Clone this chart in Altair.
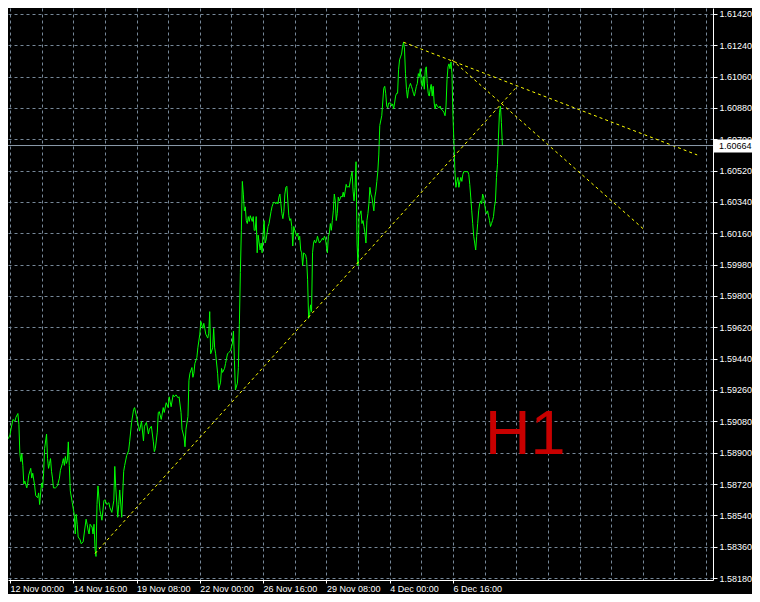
import json
import altair as alt
import pandas as pd

# ---- hourly closes (bar index, price) ----
bars = [
    0, 2, 3, 5, 7, 8, 10, 11, 12, 13, 14, 15, 16, 17, 19, 20, 21, 23, 24, 25,
    27, 28, 30, 31, 32, 33, 34, 35, 36, 37, 39, 40, 41, 42, 43, 44, 45, 46, 48, 50,
    52, 53, 55, 56, 57, 58, 59, 60, 61, 62, 63, 65, 67, 68, 69, 70, 71, 73, 74, 76,
    77, 79, 80, 81, 82, 83, 85, 86, 87, 88, 89, 90, 91, 93, 95, 97, 98, 100, 102, 103,
    105, 107, 108, 109, 111, 112, 113, 115, 117, 118, 120, 122, 123, 125, 127, 128, 130, 132, 133, 135,
    137, 138, 140, 142, 143, 145, 147, 148, 149, 151, 152, 153, 155, 157, 158, 160, 162, 163, 165, 167,
    168, 170, 172, 173, 175, 176, 178, 179, 180, 182, 183, 184, 186, 187, 188, 189, 191, 192, 194, 195,
    197, 198, 199, 200, 202, 203, 204, 205, 207, 208, 209, 210, 212, 213, 215, 216, 217, 219, 220, 222,
    223, 225, 227, 228, 229, 230, 232, 233, 234, 235, 236, 237, 238, 239, 240, 241, 242, 243, 244, 245,
    247, 248, 249, 250, 251, 252, 253, 255, 256, 257, 258, 259, 260, 261, 262, 263, 264, 266, 267, 268,
    269, 271, 272, 273, 274, 275, 276, 277, 278, 279, 280, 281, 282, 283, 284, 285, 286, 287, 288, 289,
    290, 291, 292, 293, 294, 295, 296, 297, 298, 299, 301, 302, 303, 304, 305, 306, 307, 308, 309, 310,
    311, 312, 313, 314, 315, 317, 318, 319, 320, 321, 322, 323, 324, 325, 326, 327, 328, 329, 330, 331,
    332, 333, 334, 335, 337, 338, 339, 340, 341, 342, 343, 344, 345, 347, 348, 349, 350, 351, 352, 353,
    354, 355, 357, 358, 359, 360, 361, 362, 363, 364, 365, 366, 367, 368, 369, 370, 371, 372, 373, 374,
    375, 376, 378, 380, 381, 382, 383, 384, 385, 387, 388, 389, 390, 391, 392, 393, 394, 395, 396, 397,
    398, 399, 400, 401, 402, 403, 404, 405, 406, 407, 408, 409, 410, 411, 412, 413, 414, 415, 416, 417,
    418, 419, 420, 421, 422, 423, 424, 425, 426, 427, 428, 429, 430, 431, 432, 433, 434, 436, 437, 438,
    440, 441, 442, 443, 444, 445, 446, 447, 448, 449, 450, 451, 452, 453, 454, 455, 456, 457, 458, 459,
    460, 461, 463, 465, 466, 467, 468, 469, 470, 471, 472, 473, 474, 475, 476, 477, 478, 479, 480, 481,
    482, 483, 484, 485, 486, 487, 488, 489, 490, 491, 492, 493, 494, 495, 496, 497, 498, 499, 500, 501,
]
closes = [
    1.58979, 1.59001, 1.59035, 1.59091, 1.59080, 1.59103, 1.59125, 1.59063, 1.58894, 1.58849, 1.58894, 1.58827, 1.58720, 1.58737, 1.58698, 1.58726, 1.58771, 1.58810, 1.58754, 1.58782,
    1.58709, 1.58653, 1.58641, 1.58669, 1.58602, 1.58669, 1.58726, 1.58698, 1.58782, 1.58923, 1.59007, 1.58866, 1.58810, 1.58838, 1.58866, 1.58793, 1.58754, 1.58698, 1.58698, 1.58709,
    1.58754, 1.58799, 1.58838, 1.58866, 1.58827, 1.58878, 1.58838, 1.58855, 1.58962, 1.58827, 1.58681, 1.58613, 1.58546, 1.58433, 1.58546, 1.58489, 1.58416, 1.58399, 1.58377, 1.58388,
    1.58433, 1.58518, 1.58489, 1.58456, 1.58433, 1.58489, 1.58473, 1.58433, 1.58489, 1.58349, 1.58304, 1.58602, 1.58709, 1.58568, 1.58512, 1.58624, 1.58630, 1.58602, 1.58613, 1.58585,
    1.58557, 1.58624, 1.58821, 1.58698, 1.58529, 1.58602, 1.58686, 1.58529, 1.58793, 1.58827, 1.58883, 1.58911, 1.58962, 1.59074, 1.59148, 1.59159, 1.59108, 1.59052, 1.59024, 1.59080,
    1.58968, 1.59052, 1.59074, 1.59007, 1.59035, 1.59052, 1.58962, 1.58906, 1.58923, 1.59018, 1.59131, 1.59136, 1.59091, 1.59159, 1.59131, 1.59187, 1.59159, 1.59221, 1.59164, 1.59232,
    1.59221, 1.59232, 1.59215, 1.59221, 1.59131, 1.59035, 1.58990, 1.58934, 1.59035, 1.59108, 1.59316, 1.59356, 1.59389, 1.59333, 1.59356, 1.59412, 1.59446, 1.59502, 1.59581, 1.59654,
    1.59614, 1.59643, 1.59614, 1.59581, 1.59558, 1.59586, 1.59710, 1.59468, 1.59502, 1.59614, 1.59502, 1.59468, 1.59356, 1.59260, 1.59305, 1.59384, 1.59361, 1.59384, 1.59412, 1.59468,
    1.59474, 1.59485, 1.59530, 1.59598, 1.59429, 1.59260, 1.59299, 1.59389, 1.59637, 1.59935, 1.60177, 1.60458, 1.60385, 1.60289, 1.60312, 1.60233, 1.60216, 1.60256, 1.60228, 1.60261,
    1.60228, 1.60256, 1.60177, 1.60177, 1.60256, 1.60048, 1.60149, 1.60064, 1.60104, 1.60048, 1.60160, 1.60233, 1.60104, 1.60121, 1.60160, 1.60199, 1.60216, 1.60284, 1.60312, 1.60329,
    1.60340, 1.60329, 1.60340, 1.60329, 1.60368, 1.60385, 1.60329, 1.60273, 1.60244, 1.60284, 1.60385, 1.60424, 1.60430, 1.60346, 1.60261, 1.60233, 1.60244, 1.60199, 1.60087, 1.60199,
    1.60177, 1.60160, 1.60143, 1.60160, 1.60121, 1.60143, 1.60064, 1.60048, 1.59974, 1.60048, 1.60036, 1.60008, 1.59896, 1.59671, 1.59693, 1.59749, 1.59710, 1.60048, 1.60104, 1.60121,
    1.60104, 1.60115, 1.60143, 1.60121, 1.60104, 1.60121, 1.60132, 1.60121, 1.60143, 1.60132, 1.60087, 1.60048, 1.60143, 1.60160, 1.60216, 1.60177, 1.60233, 1.60289, 1.60385, 1.60346,
    1.60233, 1.60273, 1.60368, 1.60346, 1.60374, 1.60368, 1.60396, 1.60368, 1.60402, 1.60441, 1.60424, 1.60430, 1.60424, 1.60486, 1.60514, 1.60402, 1.60346, 1.60424, 1.60571, 1.60104,
    1.59974, 1.60256, 1.60289, 1.60216, 1.60233, 1.60199, 1.60160, 1.60104, 1.60233, 1.60273, 1.60329, 1.60424, 1.60385, 1.60368, 1.60329, 1.60289, 1.60368, 1.60402, 1.60458, 1.60514,
    1.60610, 1.60779, 1.60835, 1.60993, 1.61004, 1.60964, 1.60891, 1.60880, 1.60908, 1.60908, 1.60891, 1.60903, 1.60874, 1.60908, 1.60948, 1.60964, 1.60964, 1.61099, 1.61156, 1.61173,
    1.61189, 1.61229, 1.61257, 1.61218, 1.61077, 1.60987, 1.60936, 1.60987, 1.61004, 1.61021, 1.61004, 1.60987, 1.60964, 1.60948, 1.60976, 1.61004, 1.61021, 1.61077, 1.61060, 1.61105,
    1.61021, 1.61004, 1.61060, 1.60987, 1.61099, 1.61116, 1.61021, 1.60964, 1.60948, 1.60987, 1.61015, 1.60948, 1.61004, 1.60908, 1.60874, 1.60903, 1.60891, 1.60880, 1.60891, 1.60874,
    1.60863, 1.60852, 1.60835, 1.60891, 1.61043, 1.61116, 1.61133, 1.61105, 1.61144, 1.61077, 1.60835, 1.60683, 1.60514, 1.60424, 1.60458, 1.60481, 1.60424, 1.60458, 1.60481, 1.60458,
    1.60498, 1.60514, 1.60514, 1.60514, 1.60498, 1.60441, 1.60368, 1.60289, 1.60216, 1.60143, 1.60104, 1.60064, 1.60143, 1.60216, 1.60289, 1.60329, 1.60346, 1.60329, 1.60385, 1.60368,
    1.60329, 1.60289, 1.60273, 1.60289, 1.60261, 1.60233, 1.60199, 1.60216, 1.60233, 1.60256, 1.60312, 1.60346, 1.60481, 1.60554, 1.60706, 1.60852, 1.60891, 1.60796, 1.60664, 1.60664,
]
assert len(bars) == len(closes)

# ---- trend lines (start bar/price -> end bar/price) ----
trend_bar_start = [400, 449, 88]
trend_price_start = [1.61257, 1.61156, 1.58321]
trend_bar_end = [697, 643, 514]
trend_price_end = [1.60610, 1.60183, 1.60998]

# ---- axis labels ----
label_pos = [2, 66, 130, 194, 258, 322, 386, 450]
label_text = ["12 Nov 00:00", "14 Nov 16:00", "19 Nov 08:00", "22 Nov 00:00",
              "26 Nov 16:00", "29 Nov 08:00", "4 Dec 00:00", "6 Dec 16:00"]
grid_x = list(range(2, 713, 32))
price_ticks = [round(1.5818 + 0.0018 * k, 4) for k in range(19)]

current_price = 1.60664
timeframe = "H1"

GRID = "#778899"
FONT = "Liberation Sans"
PLOT_W = 705

pos_js = json.dumps(label_pos)
txt_js = json.dumps(label_text)
label_expr = (f"indexof({pos_js}, datum.value) >= 0 ? "
              f"{txt_js}[indexof({pos_js}, datum.value)] : ''")

xscale = alt.Scale(domain=[0, 713], nice=False, zero=False)
yscale = alt.Scale(domain=[1.581688, 1.614538], nice=False, zero=False)

xaxis = alt.Axis(
    values=grid_x, labelExpr=label_expr, title=None,
    grid=True, gridColor=GRID, gridDash=[3, 3], gridWidth=1,
    domainColor="white", domainWidth=1,
    tickColor="white", tickSize=3,
    tickOpacity={"condition": {"test": f"indexof({pos_js}, datum.value) >= 0", "value": 1}, "value": 0},
    labelColor="white", labelFont=FONT, labelFontSize=9, labelAlign="left",
    labelPadding=1, labelFlush=False, labelOverlap=False, labelBound=False,
)
yaxis = alt.Axis(
    values=price_ticks, format=".5f", orient="right", title=None,
    grid=True, gridColor=GRID, gridDash=[3, 3], gridWidth=1,
    domainColor="white", domainWidth=1,
    tickColor="white", tickSize=4,
    labelColor="white", labelFont=FONT, labelFontSize=9,
    labelPadding=2, labelFlush=False, labelOverlap=False, labelBound=False,
)

df_line = pd.DataFrame({"bar": bars, "close": closes})
df_trend = pd.DataFrame({"b0": trend_bar_start, "p0": trend_price_start,
                         "b1": trend_bar_end, "p1": trend_price_end})
df_price = pd.DataFrame({"price": [current_price], "label": [f"{current_price:.5f}"]})
df_tf = pd.DataFrame({"t": [timeframe]})

line = alt.Chart(df_line).mark_line(color="#00FF00", strokeWidth=1).encode(
    x=alt.X("bar:Q", scale=xscale, axis=xaxis),
    y=alt.Y("close:Q", scale=yscale, axis=yaxis),
)

trend = alt.Chart(df_trend).mark_rule(color="#FFFF00", strokeWidth=1, strokeDash=[3, 3]).encode(
    x=alt.X("b0:Q", scale=xscale, axis=xaxis),
    y=alt.Y("p0:Q", scale=yscale, axis=yaxis),
    x2="b1:Q",
    y2="p1:Q",
)

price_line = alt.Chart(df_price).mark_rule(color="#8C9BAA", strokeWidth=1).encode(
    y=alt.Y("price:Q", scale=yscale, axis=yaxis),
)

price_box = alt.Chart(df_price).mark_rect(color="white", yOffset=-6, y2Offset=7).encode(
    y=alt.Y("price:Q", scale=yscale, axis=yaxis),
    y2="price:Q",
    x=alt.value(PLOT_W + 1),
    x2=alt.value(PLOT_W + 40),
)

price_text = alt.Chart(df_price).mark_text(
    align="left", baseline="middle", color="black", font=FONT, fontSize=9
).encode(
    y=alt.Y("price:Q", scale=yscale, axis=yaxis),
    x=alt.value(PLOT_W + 6),
    text="label:N",
)

tf_text = alt.Chart(df_tf).mark_text(
    align="left", baseline="alphabetic", color="#C80000", font=FONT, fontSize=63
).encode(
    x=alt.value(477),
    y=alt.value(446),
    text="t:N",
)

chart = alt.layer(line, trend, price_line, price_box, price_text, tf_text).properties(
    width=PLOT_W,
    height=572,
    autosize=alt.AutoSizeParams(type="none"),
    padding={"left": 0, "top": 0, "right": 39, "bottom": 14},
    background="black",
).configure_view(stroke=None, fill="black")

chart.save("out.html", embed_options={"renderer": "svg", "actions": False})
